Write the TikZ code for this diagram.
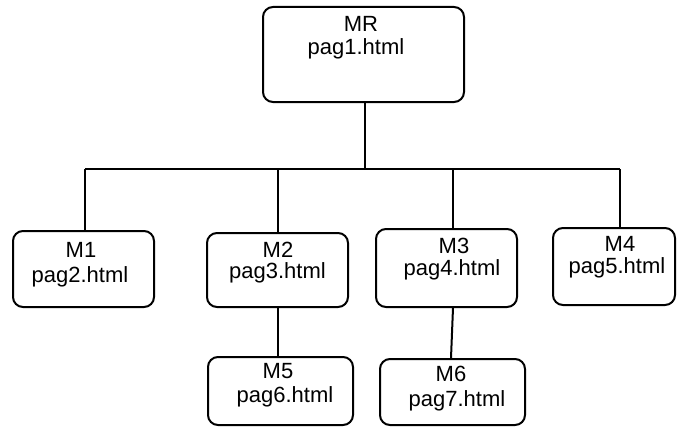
\documentclass[tikz,border=0pt]{standalone}
\usepackage{fontspec}
\setmainfont{Liberation Sans}
\begin{document}
\begin{tikzpicture}[x=1pt,y=-1pt,
  box/.style={draw=black, line width=2pt, rounded corners=10pt, rectangle, inner sep=0pt},
  lbl/.style={anchor=base, inner sep=0pt, font=\fontsize{22}{24}\selectfont},
  conn/.style={draw=black, line width=2pt}]
\useasboundingbox (0,0) rectangle (677,428);
% boxes
\node[box, minimum width=201pt, minimum height=95pt] (mr) at (363.5,54.5) {};
\node[box, minimum width=141pt, minimum height=76pt] (m1) at (83.5,269) {};
\node[box, minimum width=141pt, minimum height=74pt] (m2) at (277.5,270) {};
\node[box, minimum width=141pt, minimum height=78pt] (m3) at (446.5,268) {};
\node[box, minimum width=122pt, minimum height=77pt] (m4) at (614,266.5) {};
\node[box, minimum width=145pt, minimum height=68pt] (m5) at (280.5,391) {};
\node[box, minimum width=145pt, minimum height=66pt] (m6) at (452.5,392) {};
% texts
\node[lbl] (tmr) at (361,32) {MR};
\node[lbl] (pmr) at (356,55) {pag1.html};
\node[lbl] (tm1) at (81,257) {M1};
\node[lbl] (pm1) at (80,282) {pag2.html};
\node[lbl] (tm2) at (278,257) {M2};
\node[lbl] (pm2) at (277.5,278) {pag3.html};
\node[lbl] (tm3) at (454,253) {M3};
\node[lbl] (pm3) at (452,275) {pag4.html};
\node[lbl] (tm4) at (620,251) {M4};
\node[lbl] (pm4) at (617,273) {pag5.html};
\node[lbl] (tm5) at (278,378) {M5};
\node[lbl] (pm5) at (285,402) {pag6.html};
\node[lbl] (tm6) at (451,381) {M6};
\node[lbl] (pm6) at (457,406) {pag7.html};
% connector coordinates
\coordinate (bm) at (365,169);
\coordinate (b1) at (85,169);
\coordinate (b2) at (278,169);
\coordinate (b3) at (453,169);
\coordinate (b4) at (620,169);
\coordinate (x6) at (451,0);
% connectors
\draw[conn] (mr.south -| bm) -- (bm);
\draw[conn] (b1) -- (b4);
\draw[conn] (b1) -- (b1 |- m1.north);
\draw[conn] (b2) -- (b2 |- m2.north);
\draw[conn] (b3) -- (b3 |- m3.north);
\draw[conn] (b4) -- (b4 |- m4.north);
\draw[conn] (m2.south -| b2) -- (m5.north -| b2);
\draw[conn] (m3.south -| b3) -- (m6.north -| x6);
\end{tikzpicture}
\end{document}
